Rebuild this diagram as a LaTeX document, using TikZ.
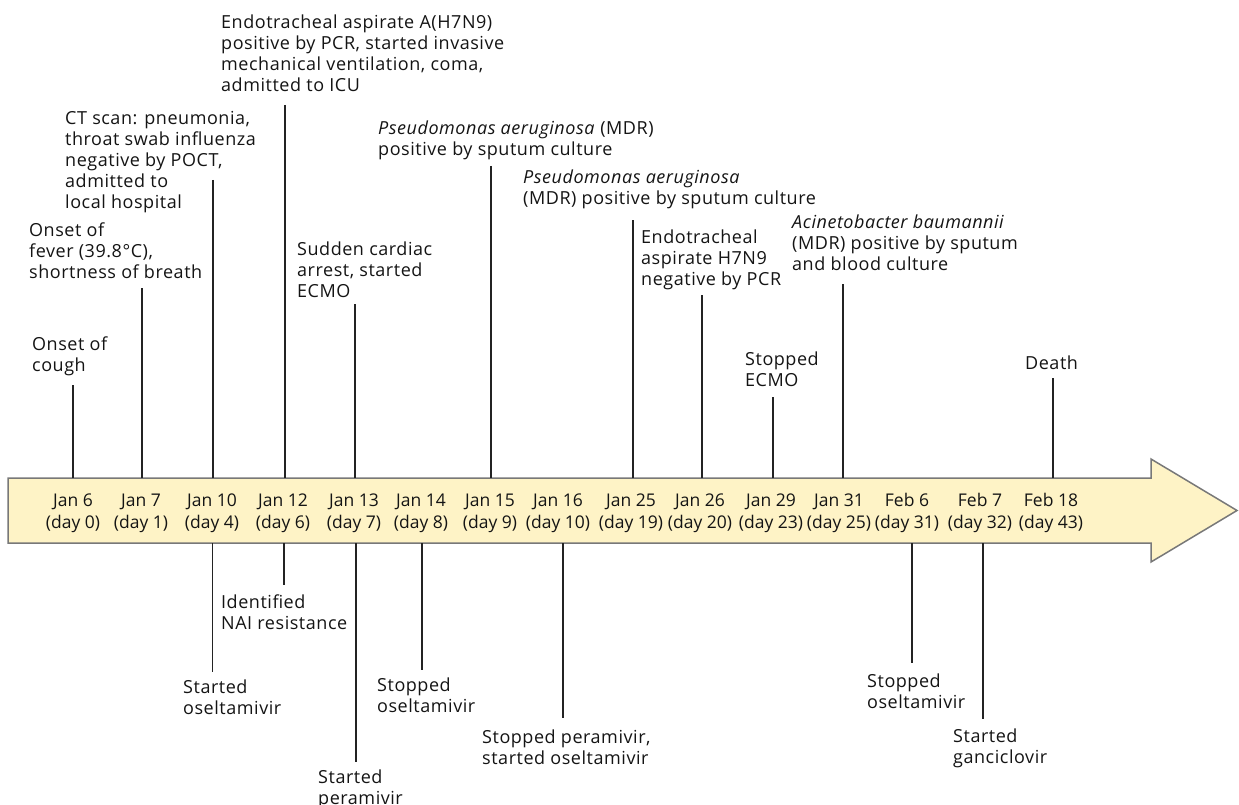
\documentclass[tikz,border=0pt]{standalone}
\usepackage{fontspec}
\setmainfont[LetterSpace=3]{Open Sans}
\newfontfamily\datefont{Open Sans}
\definecolor{arrowfill}{RGB}{254,243,198}
\definecolor{arrowline}{RGB}{120,120,120}
\definecolor{tickcol}{RGB}{35,35,35}
\definecolor{txtcol}{RGB}{20,20,20}
\begin{document}
\begin{tikzpicture}[x=1pt,y=-1pt,
  ev/.style={font=\fontsize{18}{21}\selectfont, align=left, inner sep=0pt, anchor=north west, text=txtcol},
  dt/.style={font=\datefont\fontsize{17.5}{22}\selectfont, align=center, inner sep=0pt, anchor=north, text=txtcol},
  tick/.style={draw=tickcol, line width=1.3pt},
  arrowbody/.style={draw=arrowline, fill=arrowfill, line width=1.5pt, line join=miter}]
\useasboundingbox (0,0) rectangle (1239,805);
% arrow
\draw[arrowbody] (8,478) -- (1151,478) -- (1151,459) -- (1237,510.5) -- (1151,562) -- (1151,543) -- (8,543) -- cycle;
\coordinate (bodytop) at (0,478);
\coordinate (bodybot) at (0,543);
% date labels
\node[dt] (d6)  at (73,490.5)  {\strut Jan 6\\(day 0)};
\node[dt] (d7)  at (141,490.5) {\strut Jan 7\\(day 1)};
\node[dt] (d10) at (212,490.5) {\strut Jan 10\\(day 4)};
\node[dt] (d12) at (283,490.5) {\strut Jan 12\\(day 6)};
\node[dt] (d13) at (354,490.5) {\strut Jan 13\\(day 7)};
\node[dt] (d14) at (421,490.5) {\strut Jan 14\\(day 8)};
\node[dt] (d15) at (490,490.5) {\strut Jan 15\\(day 9)};
\node[dt] (d16) at (558,490.5) {\strut Jan 16\\(day 10)};
\node[dt] (d25) at (631,490.5) {\strut Jan 25\\(day 19)};
\node[dt] (d26) at (700,490.5) {\strut Jan 26\\(day 20)};
\node[dt] (d29) at (771,490.5) {\strut Jan 29\\(day 23)};
\node[dt] (d31) at (839,490.5) {\strut Jan 31\\(day 25)};
\node[dt] (d36) at (907,490.5) {\strut Feb 6\\(day 31)};
\node[dt] (d37) at (980,490.5) {\strut Feb 7\\(day 32)};
\node[dt] (d48) at (1051,490.5) {\strut Feb 18\\(day 43)};
% events above
\node[ev] (e12) at (221,14) {\strut Endotracheal aspirate A(H7N9)\\positive by PCR, started invasive\\mechanical ventilation, coma,\\admitted to ICU};
\node[ev] (e10) at (65,109.5) {\strut CT scan: pneumonia,\\throat swab influenza\\negative by POCT,\\admitted to\\local hospital};
\node[ev] (e7) at (29,221.5) {\strut Onset of\\fever (39.8°C),\\shortness of breath};
\node[ev] (e6) at (32,335.5) {\strut Onset of\\cough};
\node[ev] (e13) at (297,240.5) {\strut Sudden cardiac\\arrest, started\\ECMO};
\node[ev] (e15) at (378,120) {\strut\textit{Pseudomonas aeruginosa} (MDR)\\positive by sputum culture};
\node[ev] (e25) at (523,168.5) {\strut\textit{Pseudomonas aeruginosa}\\(MDR) positive by sputum culture};
\node[ev] (e26) at (641,228.5) {\strut Endotracheal\\aspirate H7N9\\negative by PCR};
\node[ev] (e31) at (792,213.5) {\strut\textit{Acinetobacter baumannii}\\(MDR) positive by sputum\\and blood culture};
\node[ev] (e29) at (745,350.5) {\strut Stopped\\ECMO};
\node[ev] (e43) at (1025,354.5) {\strut Death};
% events below
\node[ev] (b12) at (221,593.5) {\strut Identified\\NAI resistance};
\node[ev] (b10) at (183,678.5) {\strut Started\\oseltamivir};
\node[ev] (b14) at (377,676.5) {\strut Stopped\\oseltamivir};
\node[ev] (b13) at (318,768.5) {\strut Started\\peramivir};
\node[ev] (b16) at (482,728.5) {\strut Stopped peramivir,\\started oseltamivir};
\node[ev] (b36) at (867,672.5) {\strut Stopped\\oseltamivir};
\node[ev] (b37) at (953,727.5) {\strut Started\\ganciclovir};
% connector ends
\coordinate (u6)  at (73,385);
\coordinate (u7)  at (142,288);
\coordinate (u10) at (213,180);
\coordinate (u12) at (285,105);
\coordinate (u13) at (355,304);
\coordinate (u15) at (491,166);
\coordinate (u25) at (633,220);
\coordinate (u26) at (702,295);
\coordinate (u29) at (773,397);
\coordinate (u31) at (843,284);
\coordinate (u48) at (1053,378);
\coordinate (l10) at (212.5,672);
\coordinate (l12) at (284,585);
\coordinate (l13) at (356,762);
\coordinate (l14) at (422,670);
\coordinate (l16) at (563,718);
\coordinate (l36) at (912,663);
\coordinate (l37) at (983,719);
% connectors
\foreach \c in {u6,u7,u10,u12,u13,u15,u25,u26,u29,u31,u48}
  \draw[tick] (\c) -- (\c |- bodytop);
\foreach \c in {l10,l12,l13,l14,l16,l36,l37}
  \draw[tick] (\c |- bodybot) -- (\c);
\end{tikzpicture}
\end{document}
